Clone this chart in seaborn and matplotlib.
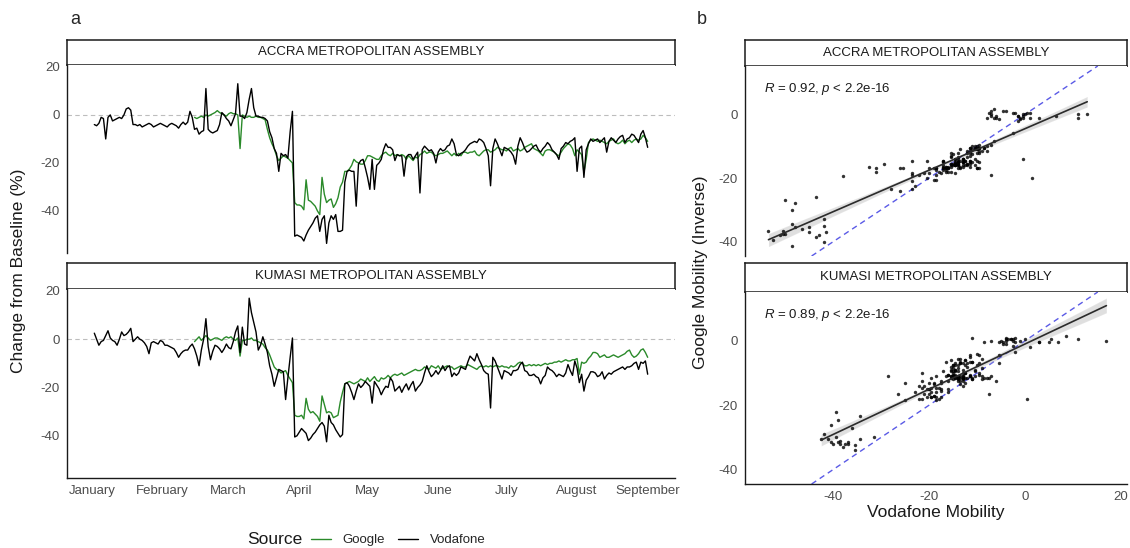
import matplotlib
matplotlib.use("Agg")
import matplotlib.pyplot as plt
import matplotlib.dates as mdates
import pandas as pd
import seaborn as sns

# ---- data ------------------------------------------------------------------
REGIONS = ["ACCRA METROPOLITAN ASSEMBLY", "KUMASI METROPOLITAN ASSEMBLY"]
SOURCES = ["Google", "Vodafone"]
MONTHS = ["2020-01-01", "2020-02-01", "2020-03-01", "2020-04-01", "2020-05-01",
          "2020-06-01", "2020-07-01", "2020-08-01", "2020-09-01"]
VODAFONE_START = "2020-01-02"
GOOGLE_START = "2020-02-15"
R_VALUES = ["0.92", "0.89"]
P_LABEL = "2.2e-16"

accra_vodafone = [
    -4, -4.5, -3.5, -1, -1.5, -10, -1, 0, -2.5, -2,
    -1.5, -1, -1.5, 0, 2.5, 3, 2, -4, -4, -4.5,
    -4, -5, -4.5, -4, -3.5, -4, -5, -4.5, -4, -3.5,
    -4, -4.5, -5, -4, -3.5, -4, -4.5, -5.5, -4, -3,
    -4, -3, 1.5, -1, -6, -5.5, -8, -7, -6.5, 11,
    -6, -7, -7.5, -7, -6.5, -4, 1, 0, -1.5, -2.5,
    -4.5, -2, 0.5, 13, -0.5, -0.5, -1.5, 1, 6.5, 11,
    3, -0.5, -0.5, -1, -1, -1.5, -2.5, -7, -9.5, -14,
    -16, -23.5, -16, -17, -16.5, -18, -7, 1.5, -50.5, -50,
    -50.5, -51, -52.5, -50, -48, -46.5, -45, -43, -42, -48.5,
    -43.5, -42, -53.5, -45, -42, -43.5, -41.5, -48.5, -48.5, -48,
    -28, -23.5, -23, -23.5, -23.5, -38, -20.5, -19, -18.5, -22,
    -26, -31, -18.5, -31, -21, -20, -18.5, -14.5, -12, -13.5,
    -13.5, -14.5, -19, -16.5, -17, -17, -25.5, -17.5, -16.5, -16.5,
    -18.5, -17, -15.5, -32.5, -14.5, -13, -14, -15, -14.5, -16,
    -20, -15.5, -14, -15, -14.5, -13, -12.5, -10, -12, -16.5,
    -17, -16, -15.5, -14.5, -13, -12, -11.5, -11, -11.5, -10,
    -10.5, -11.5, -14, -17, -29.5, -14, -10, -12, -14.5, -17,
    -13.5, -14, -14.5, -15.5, -17, -20.5, -13, -9.5, -11.5, -14,
    -15.5, -15, -14, -13, -12.5, -14.5, -15.5, -14, -13, -11.5,
    -12.5, -14.5, -15.5, -16.5, -18.5, -14, -13, -11.5, -12, -11,
    -10.5, -9.5, -23.5, -14, -13, -26, -14.5, -12, -10, -11,
    -10.5, -10, -11.5, -10.5, -9.5, -15.5, -11, -9.5, -10.5, -11.5,
    -10, -9, -8.5, -11.5, -10, -9.5, -8, -8.5, -10, -11.5,
    -8, -6.5, -9.5, -13.5,
]

accra_google = [
    -1, -1.5, -1, -0.5, -1, 0, -0.5, 0, 0.5, 1,
    1.8, 1, 0.5, 0, -0.5, 0.5, 1, 0.5, 0.5, 0,
    -14, 0, -0.5, -1, -0.5, -1, -1, -0.5, -1, -1,
    -1.5, -2, -6, -9.5, -12, -14, -17, -19, -18, -17,
    -17.5, -18, -19, -20, -36.5, -37.5, -37.5, -38, -39.5, -27,
    -35.5, -36, -37, -38, -40, -41.5, -26, -33, -36.5, -35.5,
    -35, -38.5, -37, -34.5, -30, -28, -23.5, -23.5, -22.5, -21,
    -18.5, -19.5, -20, -20.5, -20.5, -19, -17, -17, -17.5, -18,
    -18.5, -18.5, -17, -16, -15.5, -16.5, -17, -16, -17, -16.5,
    -17, -16.5, -17, -18.5, -17, -18, -19, -17.5, -18, -16.5,
    -16, -15, -16, -15.5, -15.5, -16.5, -17, -16.5, -16, -16,
    -15.5, -15, -16, -17, -16, -17, -16, -17, -15.5, -15.5,
    -16, -15.5, -15.5, -15, -16.5, -17, -16, -15, -14.5, -14.5,
    -15.5, -15, -14.5, -13.5, -14, -14.5, -14.5, -15, -14, -13.5,
    -15, -14.5, -14, -15, -14.5, -13.5, -13, -12.5, -12, -14,
    -14.5, -15, -16, -17, -15, -14.5, -14.5, -15, -15.5, -16.5,
    -17, -15.5, -14, -13, -12, -12.5, -14, -17, -14.5, -15.5,
    -16.5, -24, -18.5, -11.5, -10.5, -10, -10.5, -11, -10.5, -11,
    -11.5, -12, -11, -10.5, -10, -11.5, -12, -11.5, -10.5, -12,
    -11, -10.5, -11.5, -10.5, -10, -10.5, -10, -8.5, -9.5, -11,
]

kumasi_vodafone = [
    2.5, 0, -2.5, -1, -0.5, 1.5, 3.5, 0.5, -0.5, -1,
    -2.5, 0, 3, 1.5, 2, 3, 4.5, -1, 0, 1,
    0, -0.5, -1.5, -3, -6, -1.5, -1, -1.5, -2, -0.5,
    -1, -2.5, -2.5, -3, -3.5, -4, -5.5, -7.5, -6, -5,
    -4.5, -4.5, -3, -2, -4, -7, -11, -4.5, 0, 8.5,
    -3, -8.5, -5, -2.5, -3, -4, -5.5, -4, -2, -3.5,
    -4, -1, 3, 5.5, -5.5, 5, -2, -2.5, 17, 11,
    7, 3, -4.5, -2.5, 1, -2, -5.5, -11, -14.5, -19.5,
    -16, -12.5, -13, -13.5, -25, -16, -7.5, 0.5, -40.5, -40,
    -38.5, -37, -38, -39, -42, -41, -39.5, -38.5, -37, -35.5,
    -34.5, -36, -42.5, -31.5, -34.5, -35.5, -37.5, -39, -40.5, -39.5,
    -18.5, -18, -19.5, -22, -25, -21.5, -18.5, -20, -19, -17.5,
    -18.5, -19.5, -26.5, -17.5, -19, -20.5, -23, -21, -19.5, -20,
    -16, -17.5, -21.5, -20.5, -19.5, -22, -20, -18.5, -21, -19,
    -17.5, -21.5, -20, -19, -17.5, -14, -11, -13.5, -15.5, -14.5,
    -13, -14.5, -13, -11, -13, -11.5, -11, -15.5, -14, -15,
    -14, -11.5, -12, -12.5, -9.5, -7, -8, -9, -6, -8.5,
    -10.5, -13, -14, -14.5, -28.5, -7.5, -9, -11.5, -14, -16.5,
    -13, -13.5, -14, -15, -13, -13, -12.5, -10.5, -9.5, -13,
    -13.5, -15, -15, -14.5, -15.5, -16, -18.5, -16, -15, -11.5,
    -12.5, -13, -14, -15.5, -14.5, -15, -15.5, -14, -10.5, -13,
    -15, -9, -12, -18, -14.5, -21.5, -17, -15.5, -13.5, -13.5,
    -14, -15.5, -15, -13.5, -16.5, -15, -14, -14.5, -13.5, -13,
    -12.5, -12, -11.5, -12.5, -11.5, -11.5, -11, -10, -9.5, -12.5,
    -9.5, -10, -9, -14.5,
]

kumasi_google = [
    -1, 0, 1, -0.5, 0.5, 1.5, 0.5, -0.5, 0, 0.5,
    0.5, 0, -0.5, 0.5, 1, 0.5, 1, 0, -0.5, 0.5,
    -7, -0.5, -0.5, 0, 0, 0.5, -0.5, -0.5, -1, -1.5,
    -2, -3.5, -4.5, -6.5, -9, -11.5, -12.5, -13, -14, -13.5,
    -13, -15, -16.5, -18, -31.5, -32, -32, -31.5, -33, -24.5,
    -29, -30.5, -30, -31, -32, -34, -23.5, -27, -30.5, -30,
    -30.5, -32.5, -32, -31.5, -26, -22, -18.5, -18, -17.5, -18,
    -18.5, -18, -17.5, -16.5, -17, -17.5, -16, -17.5, -16.5, -15.5,
    -17, -17.5, -16, -16.5, -16, -15, -16, -15, -14.5, -15,
    -14.5, -14, -15, -14.5, -14, -13.5, -13, -12.5, -13, -13,
    -12.5, -11.5, -12, -12.5, -11, -11.5, -12, -11, -12.5, -12,
    -11.5, -11, -11.5, -11.5, -12.5, -12, -11.5, -11, -11.5, -11.5,
    -10.5, -11, -11.5, -12, -12.5, -11.5, -11, -11.5, -11, -11.5,
    -11, -11.5, -11, -11, -11.5, -11, -11.5, -11.5, -12, -11,
    -11.5, -11, -10, -9.5, -10, -11, -11, -10.5, -11, -10.5,
    -11, -10.5, -11, -10.5, -10, -10.5, -10, -10, -9.5, -9.5,
    -9, -9.5, -9, -8.5, -9, -9, -8.5, -8.5, -8, -14.5,
    -9.5, -10, -9.5, -8, -7, -5.5, -5.5, -6, -7.5, -7,
    -6.5, -7.5, -7.5, -7, -6.5, -7, -7.5, -7, -6.5, -6,
    -5, -4.5, -6.5, -7.5, -7, -6, -4.5, -4, -5.5, -7.5,
]

SERIES = {
    (REGIONS[0], "Vodafone"): (VODAFONE_START, accra_vodafone),
    (REGIONS[0], "Google"): (GOOGLE_START, accra_google),
    (REGIONS[1], "Vodafone"): (VODAFONE_START, kumasi_vodafone),
    (REGIONS[1], "Google"): (GOOGLE_START, kumasi_google),
}

PALETTE = {"Google": "#2a8a2a", "Vodafone": "#000000"}
W, H = 1130, 548


def series_frame(region, source, start, values):
    dates = pd.date_range(start, periods=len(values), freq="D")
    return pd.DataFrame({"date": dates, "value": values,
                         "region": region, "source": source})


def rect(x0, y0, x1, y1):
    """pixel box (top-left origin) -> figure fraction rect"""
    return [x0 / W, 1 - y1 / H, (x1 - x0) / W, (y1 - y0) / H]


def add_strip(fig, box, label):
    ax = fig.add_axes(rect(*box))
    ax.set_xticks([])
    ax.set_yticks([])
    for sp in ax.spines.values():
        sp.set_visible(True)
        sp.set_color("#1a1a1a")
        sp.set_linewidth(1.1)
    ax.text(0.5, 0.5, label, ha="center", va="center", fontsize=9.5,
            color="#1a1a1a", transform=ax.transAxes)


def style_panel(ax, bottom):
    sns.despine(ax=ax, bottom=not bottom)
    ax.spines["left"].set_color("#1a1a1a")
    ax.spines["left"].set_linewidth(1.0)
    ax.spines["bottom"].set_color("#1a1a1a")
    ax.spines["bottom"].set_linewidth(1.0)
    ax.tick_params(length=3, width=0.8, color="#333333",
                   labelcolor="#4d4d4d", labelsize=9.5, pad=2)
    if not bottom:
        ax.tick_params(axis="x", bottom=False, labelbottom=False)
    ax.set_xlabel("")
    ax.set_ylabel("")


sns.set_theme(style="white")
plt.rcParams["font.family"] = ["Liberation Sans", "DejaVu Sans"]
plt.rcParams["axes.unicode_minus"] = False
plt.rcParams["mathtext.fontset"] = "custom"
plt.rcParams["mathtext.it"] = "Liberation Sans:italic"
plt.rcParams["mathtext.rm"] = "Liberation Sans"

df = pd.concat([series_frame(r, s, *SERIES[(r, s)]) for r in REGIONS for s in SOURCES],
               ignore_index=True)

fig = plt.figure(figsize=(W / 100, H / 100), dpi=100)

# ---- panel a: time series ---------------------------------------------------
left_boxes = [((67, 40, 675, 65), (67, 65, 675, 253)),
              ((67, 263, 675, 289), (67, 289, 675, 478))]
month_ticks = pd.to_datetime(MONTHS)
line_handles = None
for i, region in enumerate(REGIONS):
    strip_box, panel_box = left_boxes[i]
    add_strip(fig, strip_box, region)
    ax = fig.add_axes(rect(*panel_box))
    ax.axhline(0, color="#bdbdbd", ls=(0, (4, 3)), lw=0.8, zorder=0)
    sub = df[df["region"] == region]
    sns.lineplot(data=sub, x="date", y="value", hue="source", hue_order=SOURCES,
                 palette=PALETTE, lw=1.0, ax=ax, estimator=None)
    line_handles = ax.get_legend_handles_labels()
    ax.get_legend().remove()
    ax.set_xlim(pd.Timestamp("2019-12-21"), pd.Timestamp("2020-09-13"))
    ax.set_ylim(-57.5, 20.8)
    ax.set_yticks([-40, -20, 0, 20])
    ax.set_xticks(month_ticks)
    ax.xaxis.set_major_formatter(mdates.DateFormatter("%B"))
    style_panel(ax, bottom=(i == 1))

# ---- panel b: Google vs Vodafone scatter ------------------------------------
right_boxes = [((745, 40, 1127, 66), (745, 66, 1127, 256)),
               ((745, 263, 1127, 292), (745, 292, 1127, 484))]
for i, region in enumerate(REGIONS):
    strip_box, panel_box = right_boxes[i]
    add_strip(fig, strip_box, region)
    ax = fig.add_axes(rect(*panel_box))
    sub = df[df["region"] == region]
    pairs = sub.pivot(index="date", columns="source", values="value").dropna()
    ax.axline((0, 0), slope=1, ls=(0, (4, 3)), color="#5a5ae6", lw=1.0, zorder=1)
    sns.regplot(data=pairs, x="Vodafone", y="Google", ax=ax, ci=95, seed=3,
                scatter_kws=dict(s=6, color="black", linewidths=0, zorder=3),
                line_kws=dict(color="#2b2b2b", lw=1.2, zorder=4))
    ax.set_xlim(-58.4, 21.3)
    ax.set_ylim(-44.5, 15.2)
    ax.set_xticks([-40, -20, 0, 20])
    ax.set_yticks([-40, -20, 0])
    ax.text(-54.5, 8, f"$R$ = {R_VALUES[i]}, $p$ < {P_LABEL}", ha="left",
            va="center", fontsize=9.5, color="#1a1a1a")
    style_panel(ax, bottom=(i == 1))

# ---- labels and legend -------------------------------------------------------
fig.text(70 / W, 1 - 20 / H, "a", fontsize=13, ha="left", va="center")
fig.text(697 / W, 1 - 20 / H, "b", fontsize=13, ha="left", va="center")
fig.text(19 / W, 1 - 271 / H, "Change from Baseline (%)", rotation=90,
         fontsize=12.5, ha="center", va="center", color="#1a1a1a")
fig.text(700 / W, 1 - 272 / H, "Google Mobility (Inverse)", rotation=90,
         fontsize=12.5, ha="center", va="center", color="#1a1a1a")
fig.text(936 / W, 1 - 512 / H, "Vodafone Mobility", fontsize=12.5,
         ha="center", va="center", color="#1a1a1a")
fig.text(247 / W, 1 - 540 / H, "Source", fontsize=12.5, ha="left",
         va="center", color="#1a1a1a")
handles, labels = line_handles
fig.legend(handles, labels, loc="center left", bbox_to_anchor=(311 / W, 1 - 540 / H),
           ncol=2, frameon=False, handlelength=1.5, handletextpad=0.9,
           columnspacing=1.0, fontsize=9.5, borderpad=0, borderaxespad=0)

fig.savefig("out.png", dpi=100)
plt.close(fig)
